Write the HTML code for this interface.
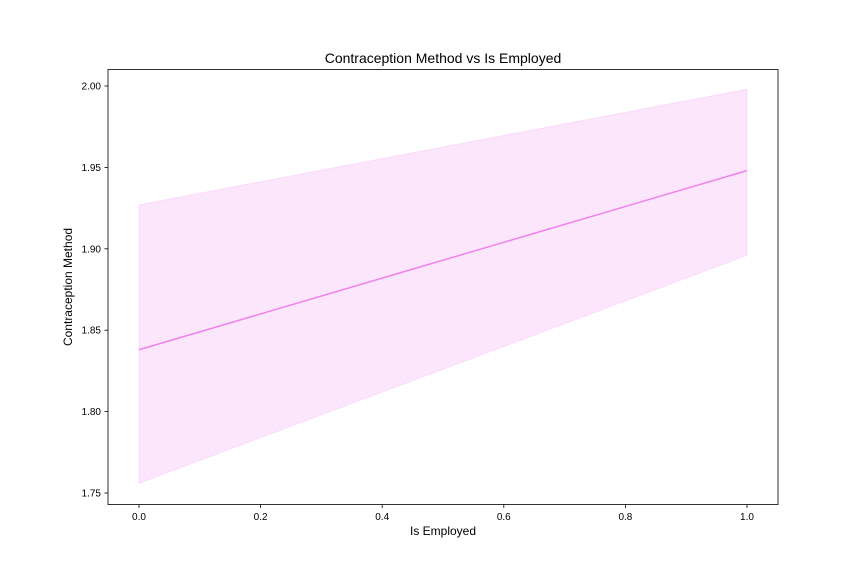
<!DOCTYPE html>
<html><head><meta charset="utf-8"><style>
body{margin:0;background:#fff;}
svg text{font-family:"Liberation Sans","DejaVu Sans",sans-serif;}
</style></head><body>
<svg id="chart" width="864" height="576" xmlns="http://www.w3.org/2000/svg">
<rect width="864" height="576" fill="#fff"/>
<text x="443" y="63" text-anchor="middle" font-size="14">Contraception Method vs Is Employed</text>
<g id="plot"></g>
<rect x="108" y="69.5" width="670" height="435" fill="none" stroke="#000" stroke-width="0.8"/>
<text x="443" y="535" text-anchor="middle" font-size="12">Is Employed</text>
<text transform="translate(72,287) rotate(-90)" text-anchor="middle" font-size="12">Contraception Method</text>
</svg>
<script>
const xVals=[0,1];
const meanVals=[1.838,1.948];
const upperVals=[1.927,1.998];
const lowerVals=[1.756,1.896];
const xTicks=[0,0.2,0.4,0.6,0.8,1.0];
const xTickLabels=["0.0","0.2","0.4","0.6","0.8","1.0"];
const yTicks=[1.75,1.80,1.85,1.90,1.95,2.00];
const yTickLabels=["1.75","1.80","1.85","1.90","1.95","2.00"];
const xs=v=>139+v*608;
const ys=v=>86-(v-2.0)/0.05*81.4;
const ns="http://www.w3.org/2000/svg";
const g=document.getElementById('plot');
function mk(t,a){const e=document.createElementNS(ns,t);for(const k in a)e.setAttribute(k,a[k]);return e;}
let pts=xVals.map((x,i)=>xs(x)+','+ys(upperVals[i]));
for(let i=xVals.length-1;i>=0;i--)pts.push(xs(xVals[i])+','+ys(lowerVals[i]));
const band=mk('polygon',{points:pts.join(' '),fill:'#ee82ee','fill-opacity':'0.2',stroke:'#ee82ee','stroke-opacity':'0.2'});


g.appendChild(band);
const line=mk('polyline',{points:xVals.map((x,i)=>xs(x)+','+ys(meanVals[i])).join(' '),fill:'none',stroke:'#ee82ee','stroke-width':'1.5'});


g.appendChild(line);
xTicks.forEach((v,i)=>{
 const x=xs(v);
 const t=mk('line',{x1:x,x2:x,y1:504.5,y2:508,stroke:'#000','stroke-width':'0.8'});
 
 
 g.appendChild(t);
 const l=mk('text',{x:x,y:520,'text-anchor':'middle','font-size':'10'});
 l.textContent=xTickLabels[i];
 
 
 g.appendChild(l);
});
yTicks.forEach((v,i)=>{
 const y=ys(v);
 const t=mk('line',{x1:104.5,x2:108,y1:y,y2:y,stroke:'#000','stroke-width':'0.8'});
 
 
 g.appendChild(t);
 const l=mk('text',{x:101,y:y+3.5,'text-anchor':'end','font-size':'10'});
 l.textContent=yTickLabels[i];
 
 
 g.appendChild(l);
});
</script>
</body></html>
